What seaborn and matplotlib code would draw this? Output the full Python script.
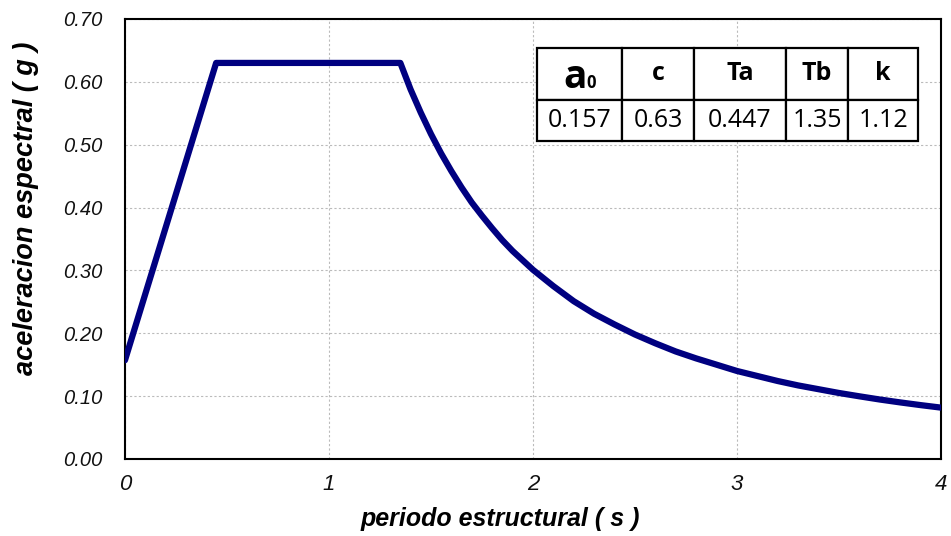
import seaborn as sns
import matplotlib.pyplot as plt
import pandas as pd

# espectro de diseno
periodo = [0.0, 0.447, 1.35, 1.40, 1.45, 1.50, 1.55, 1.60, 1.65, 1.70, 1.75, 1.80, 1.85,
           1.90, 1.95, 2.0, 2.1, 2.2, 2.3, 2.4, 2.5, 2.6, 2.7, 2.8, 2.9, 3.0, 3.1, 3.2,
           3.3, 3.4, 3.5, 3.6, 3.7, 3.8, 3.9, 4.0]
acel = [0.157, 0.63, 0.63, 0.588, 0.551, 0.517, 0.486, 0.458, 0.432, 0.408, 0.387, 0.367,
        0.348, 0.331, 0.316, 0.301, 0.275, 0.251, 0.231, 0.214, 0.198, 0.184, 0.171, 0.160,
        0.150, 0.140, 0.132, 0.124, 0.117, 0.111, 0.105, 0.0997, 0.0946, 0.090, 0.0857,
        0.0817]

param_names = ['a', 'c', 'Ta', 'Tb', 'k']
param_values = ['0.157', '0.63', '0.447', '1.35', '1.12']

sns.set_style('white')
plt.rcParams['font.family'] = ['Liberation Sans', 'DejaVu Sans']
plt.rcParams['text.color'] = 'black'
plt.rcParams['axes.labelcolor'] = 'black'

df = pd.DataFrame({'T': periodo, 'Sa': acel})

fig = plt.figure(figsize=(9.51, 5.36), dpi=100)
ax = fig.add_axes([0.1314, 0.1437, 0.858, 0.821])
sns.lineplot(data=df, x='T', y='Sa', ax=ax, sort=False, color='#000080', linewidth=4.5,
             solid_joinstyle='round', solid_capstyle='round', zorder=3)

ax.set_xlim(0, 4)
ax.set_ylim(0, 0.70)
ax.set_xticks([0, 1, 2, 3, 4])
ax.set_yticks([i / 10 for i in range(8)])
ax.set_yticklabels([f'{i / 10:.2f}' for i in range(8)], fontsize=14.5, style='italic',
                   color='#111111')
ax.set_xticklabels(['0', '1', '2', '3', '4'], fontsize=16, style='italic', color='#111111')
ax.tick_params(axis='y', direction='out', length=6, width=1, color='black', pad=10)
ax.tick_params(axis='x', direction='out', length=6, width=1, color='black', pad=5)
ax.grid(True, color='#bbbbbb', linestyle=(0, (2, 2)), linewidth=0.8)
for s in ax.spines.values():
    s.set_color('black')
    s.set_linewidth(1.5)

ax.set_xlabel('periodo estructural ( s )', fontsize=18, fontweight='bold', style='italic')
ax.set_ylabel('aceleracion espectral ( g )', fontsize=19.5, fontweight='bold', style='italic')
ax.xaxis.set_label_coords(0.46, -0.11)
ax.yaxis.set_label_coords(-0.105, 0.57)

# tabla de parametros
tab = ax.table(cellText=[[''] + param_names[1:], param_values],
               colWidths=[85, 72, 92, 62, 70], cellLoc='center',
               bbox=[0.505, 0.723, 0.467, 0.211], zorder=5)
tab.auto_set_font_size(False)
for (r, c), cell in tab.get_celld().items():
    cell.set_linewidth(1.6)
    cell.set_edgecolor('black')
    cell.set_facecolor('white')
    cell.set_height(52 if r == 0 else 41)
    txt = cell.get_text()
    txt.set_family(['Open Sans', 'DejaVu Sans'])
    txt.set_color('black')
    if r == 0:
        txt.set_fontsize(18)
        txt.set_fontweight('bold')
    else:
        txt.set_fontsize(18)

# a0 con el cero pequeno
ax.text(0.537, 0.842, param_names[0], transform=ax.transAxes, ha='left', va='baseline',
        fontsize=28, fontweight='bold', family=['Open Sans', 'DejaVu Sans'], zorder=6)
ax.text(0.566, 0.842, '0', transform=ax.transAxes, ha='left', va='baseline',
        fontsize=12, fontweight='bold', family=['Open Sans', 'DejaVu Sans'], zorder=6)

fig.savefig('out.png', dpi=100)
